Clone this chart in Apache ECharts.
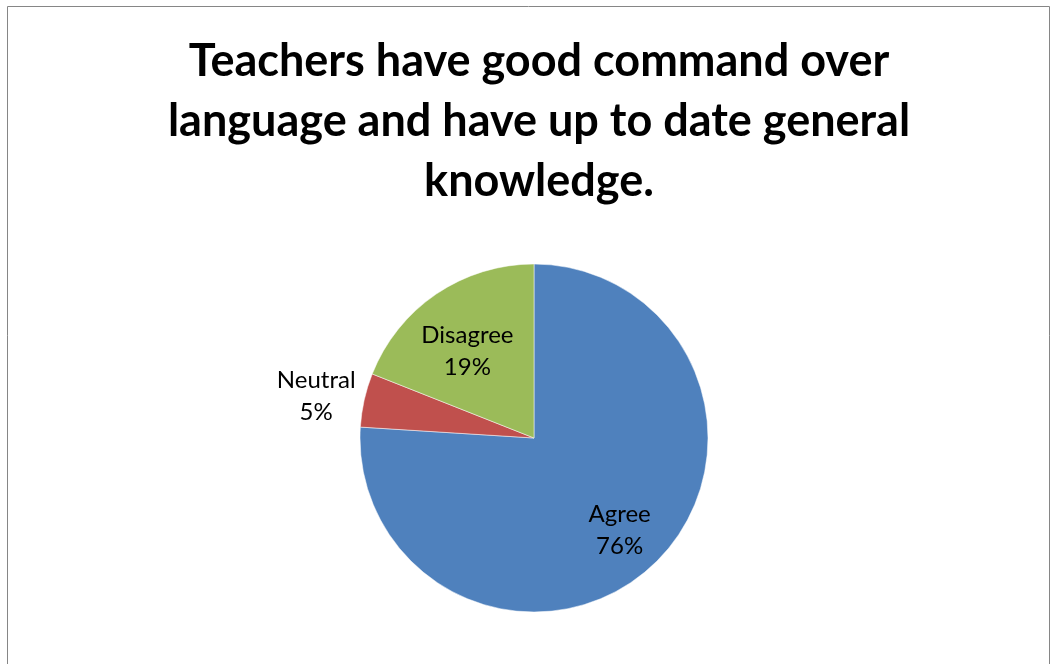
<!DOCTYPE html>
<html>
<head>
<meta charset="utf-8">
<script src="https://cdn.jsdelivr.net/npm/echarts@6/dist/echarts.min.js"></script>
<style>
  html, body { margin: 0; padding: 0; background: #fff; }
  #chart { width: 1051px; height: 664px; }
</style>
</head>
<body>
<div id="chart"></div>
<script>
'use strict';

const titleText = 'Teachers have good command over\nlanguage and have up to date general\nknowledge.';
const categories = ['Agree', 'Neutral', 'Disagree'];
const values = [76, 5, 19];
const colors = ['#4F81BD', '#C0504D', '#9BBB59'];
// label nudges from the default inside spot
const labelOffsets = [[24, 27], [-130, -22], [-16, -12]];

const chart = echarts.init(document.getElementById('chart'), null, { renderer: 'canvas' });

const data = categories.map((name, i) => ({
    name: name,
    value: values[i],
    itemStyle: { color: colors[i] },
    label: { offset: labelOffsets[i] }
}));

chart.setOption({
    animation: false,
    backgroundColor: '#fff',
    graphic: [{
        type: 'rect',
        shape: { x: 7.5, y: 6.5, width: 1042, height: 700 },
        style: { fill: 'none', stroke: '#868686', lineWidth: 1 }
    }],
    title: {
        text: titleText,
        left: 534,
        top: 26,
        textAlign: 'center',
        textStyle: {
            fontFamily: 'Lato',
            fontWeight: 'bold',
            fontSize: 45,
            lineHeight: 60,
            color: '#000'
        }
    },
    series: [{
        type: 'pie',
        center: [534, 438],
        radius: 174,
        startAngle: 90,
        clockwise: true,
        silent: true,
        label: {
            show: true,
            position: 'inside',
            formatter: '{b}\n{d}%',
            fontFamily: 'Lato',
            fontSize: 24,
            lineHeight: 32,
            color: '#000'
        },
        labelLine: { show: false },
        itemStyle: { borderColor: '#fff', borderWidth: 0.5 },
        data: data
    }]
});
</script>
</body>
</html>
